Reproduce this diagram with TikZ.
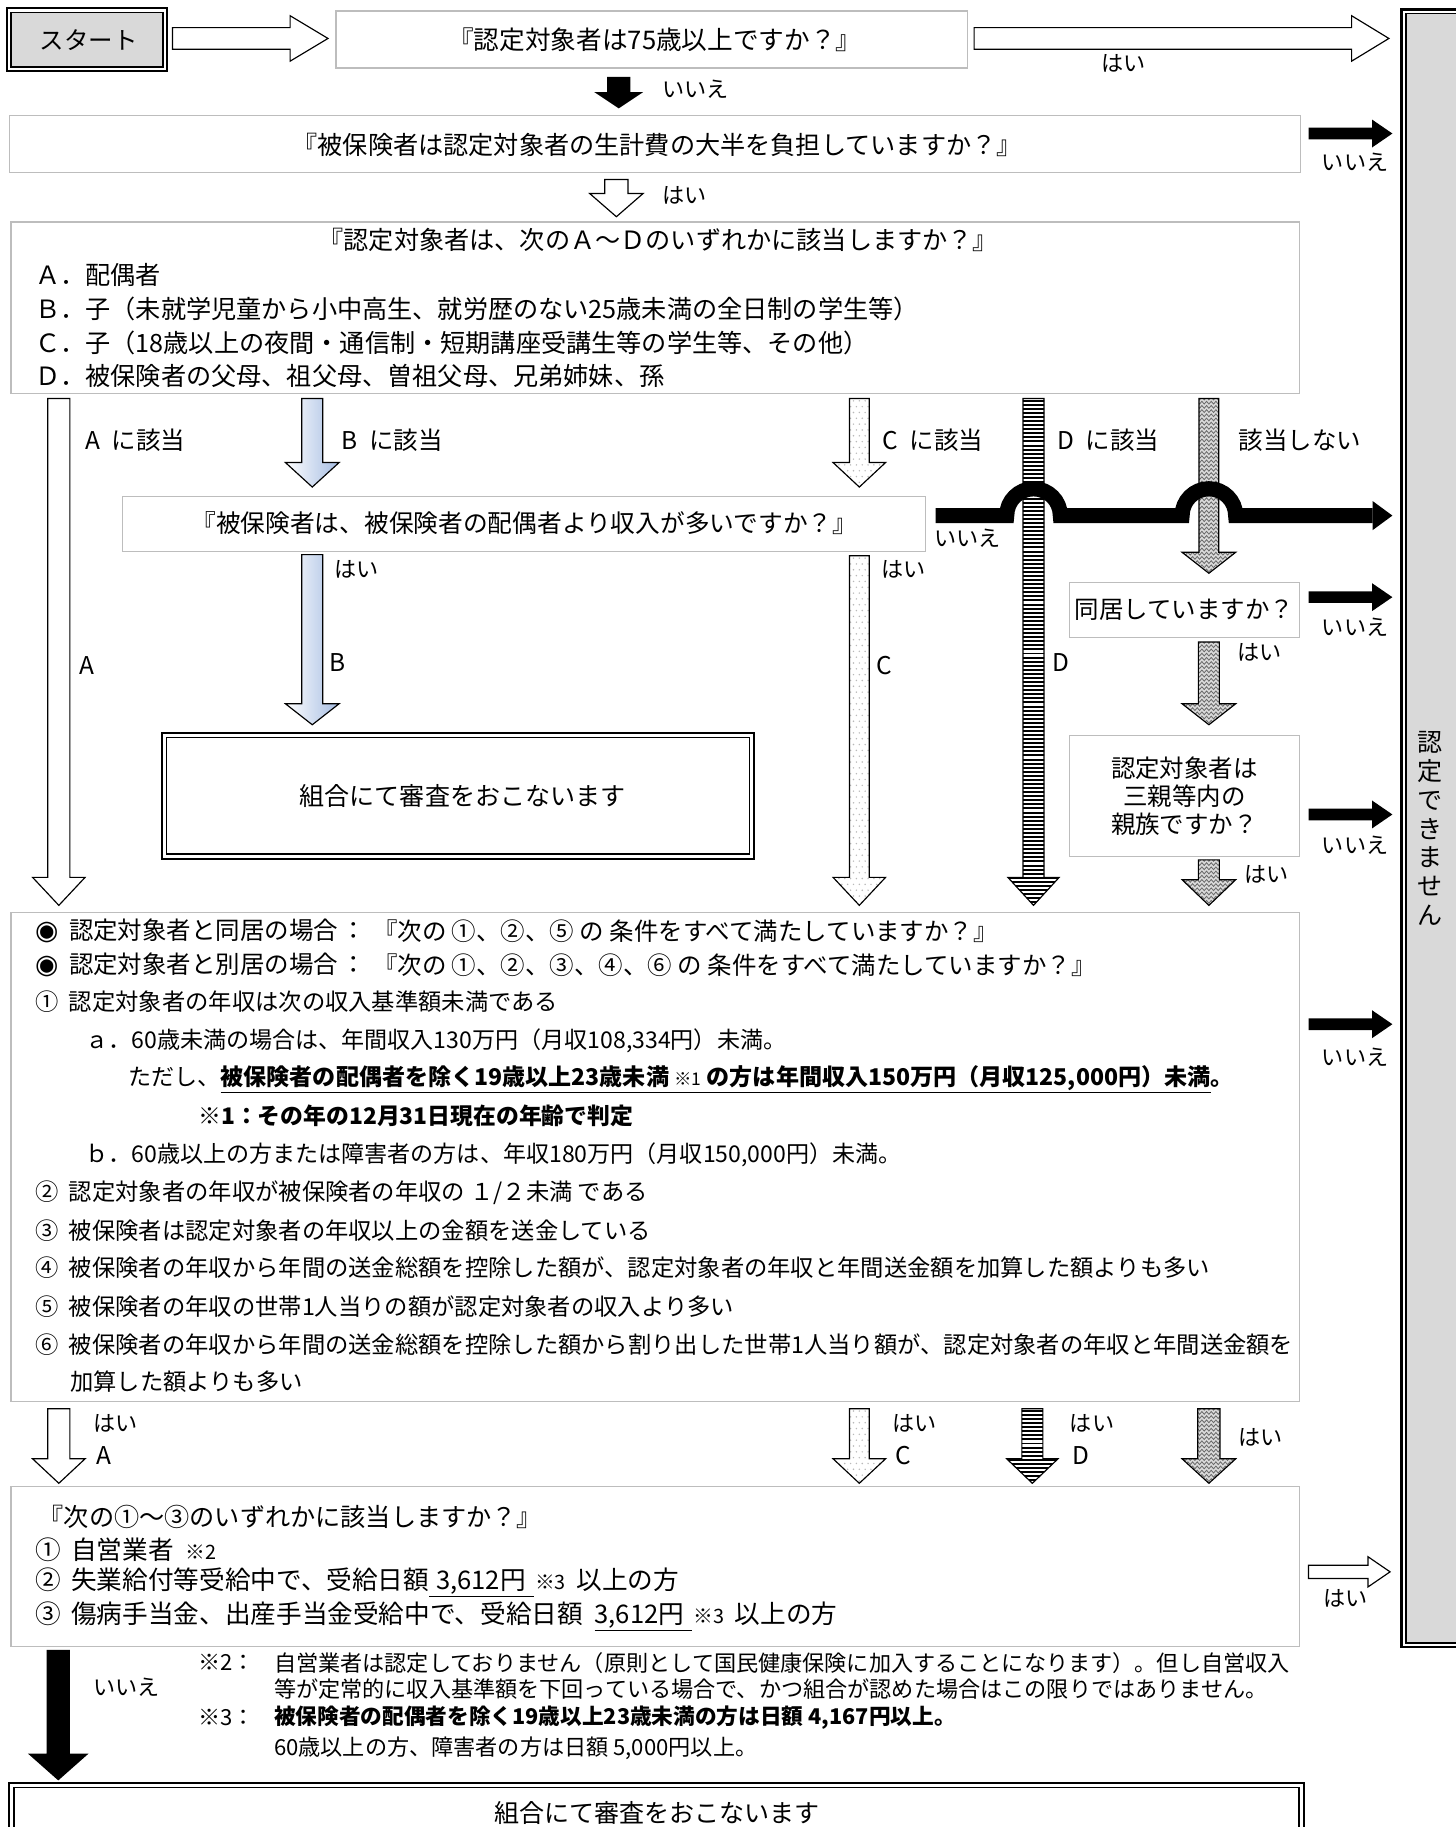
\documentclass[tikz,border=0pt]{standalone}
\usepackage{fontspec}
\setmainfont{Noto Sans CJK JP}
\newfontfamily\dejavu{DejaVu Sans}
\usetikzlibrary{decorations.pathmorphing}
\definecolor{boxgray}{HTML}{BDBDBD}
\definecolor{fillgray}{HTML}{D9D9D9}
\definecolor{bblue}{RGB}{165,188,226}
\definecolor{zzbg}{HTML}{DADADA}
\definecolor{zzline}{HTML}{6A6A6A}
\newcommand{\FsA}{\fontsize{21pt}{25pt}\selectfont}
\newcommand{\FsB}{\fontsize{21.6pt}{29pt}\selectfont}
\newcommand{\FsC}{\fontsize{19pt}{23pt}\selectfont}
\newcommand{\FsD}{\fontsize{22pt}{28pt}\selectfont}
\newcommand{\FsS}{\fontsize{15pt}{18pt}\selectfont}
\newcommand{\FsT}{\fontsize{17pt}{18pt}\selectfont}
\newcommand{\Fish}{{\dejavu\fontsize{23pt}{25pt}\selectfont ◉}}
\newcommand{\Gp}{\hspace{9pt}}
% down arrow: cx, ytop, yhead, ytip, shaft half, head half
\newcommand{\DPath}[6]{({#1-#5},#2) -- ({#1+#5},#2) -- ({#1+#5},#3) -- ({#1+#6},#3) -- (#1,#4) -- ({#1-#6},#3) -- ({#1-#5},#3) -- cycle}
% right arrow: x0, xhead, xtip, cy, shaft half, head half
\newcommand{\RPath}[6]{(#1,{#4-#5}) -- (#2,{#4-#5}) -- (#2,{#4-#6}) -- (#3,#4) -- (#2,{#4+#6}) -- (#2,{#4+#5}) -- (#1,{#4+#5}) -- cycle}
\newcommand{\StripeArrow}[6]{%
  \fill[white] \DPath{#1}{#2}{#3}{#4}{#5}{#6};
  \begin{scope}
    \clip \DPath{#1}{#2}{#3}{#4}{#5}{#6};
    \pgfmathsetmacro{\nst}{int((#4-#2)/3.5)}
    \foreach \ka in {0,...,\nst}{\fill[black] ({#1-#6-2},{#2+1+3.5*\ka}) rectangle ({#1+#6+2},{#2+2.7+3.5*\ka});}
  \end{scope}
  \draw[line width=1] \DPath{#1}{#2}{#3}{#4}{#5}{#6};}
\newcommand{\ZigArrow}[6]{%
  \fill[zzbg] \DPath{#1}{#2}{#3}{#4}{#5}{#6};
  \begin{scope}
    \clip \DPath{#1}{#2}{#3}{#4}{#5}{#6};
    \pgfmathsetmacro{\nst}{int((#4-#2)/3.6)+1}
    \foreach \ka in {0,...,\nst}{\draw[zzline, line width=0.7, decorate, decoration={zigzag,segment length=4pt,amplitude=1.2pt}] ({#1-#6-4},{#2+3.6*\ka}) -- ({#1+#6+4},{#2+3.6*\ka});}
  \end{scope}
  \draw[line width=1] \DPath{#1}{#2}{#3}{#4}{#5}{#6};}
\newcommand{\DotArrow}[6]{%
  \fill[white] \DPath{#1}{#2}{#3}{#4}{#5}{#6};
  \begin{scope}
    \clip \DPath{#1}{#2}{#3}{#4}{#5}{#6};
    \pgfmathsetmacro{\nst}{int((#4-#2)/5)}
    \foreach \ka in {0,...,\nst}{\foreach \kb in {-5,...,5}{\fill[gray!55] ({#1+5*\kb+2.5*mod(\ka,2)},{#2+2+5*\ka}) circle[radius=0.7];}}
  \end{scope}
  \draw[line width=1] \DPath{#1}{#2}{#3}{#4}{#5}{#6};}
\newcommand{\BlueArrow}[6]{%
  \shade[left color=white, right color=bblue] \DPath{#1}{#2}{#3}{#4}{#5}{#6};
  \draw[line width=1] \DPath{#1}{#2}{#3}{#4}{#5}{#6};}
\begin{document}
\begin{tikzpicture}[x=1pt,y=-1pt,
  qbox/.style={draw=boxgray, line width=1, fill=white, rectangle, inner sep=0pt},
  lab/.style={inner sep=0pt, anchor=west, font=\FsC},
  txt/.style={inner sep=0pt, anchor=west},
  hollow/.style={draw=black, line width=1, fill=white},
  solidarrow/.style={fill=black}]
\useasboundingbox (0,0) rectangle (1249,1568);
\fill[white] (0,0) rectangle (1249,1568);

% ---------- start box ----------
\draw[line width=2] (6,7) rectangle (143.5,61);
\filldraw[fill=fillgray, line width=1.2] (9.5,10.5) rectangle (140,57.5);
\node[inner sep=0pt, font=\FsA] (start) at (76,34) {スタート};

% ---------- right box ----------
\draw[line width=2.5] (1203,8) rectangle (1270,1413.5);
\filldraw[fill=fillgray, line width=1.2] (1206.5,11.5) rectangle (1270,1410);
\node[inner sep=0pt, align=center, font=\fontsize{21.5pt}{24.7pt}\selectfont] (ng) at (1227,711) {認\\定\\で\\き\\ま\\せ\\ん};

% ---------- question boxes ----------
\node[qbox, minimum width=541.6, minimum height=49] (q1) at (559.2,33.9) {};
\node[font=\fontsize{22pt}{26pt}\selectfont, inner sep=0pt] at (562,34) {『認定対象者は75歳以上ですか？』};
\node[qbox, minimum width=1108, minimum height=49.5] (q2) at (562,123.6) {};
\node[font=\fontsize{21.6pt}{26pt}\selectfont, inner sep=0pt] at (564,124) {『被保険者は認定対象者の生計費の大半を負担していますか？』};
\node[qbox, minimum width=1105.5, minimum height=147] (q3) at (562.25,264) {};
\node[font=\FsB, inner sep=0pt] (q3t) at (565,206) {『認定対象者は、次のＡ～Ｄのいずれかに該当しますか？』};
\node[txt, font=\FsB] (q3a) at (30,236) {Ａ．配偶者};
\node[txt, font=\FsB] (q3b) at (30,265) {Ｂ．子（未就学児童から小中高生、就労歴のない25歳未満の全日制の学生等）};
\node[txt, font=\FsB] (q3c) at (30,294) {Ｃ．子（18歳以上の夜間・通信制・短期講座受講生等の学生等、その他）};
\node[txt, font=\FsB] (q3d) at (30,323) {Ｄ．被保険者の父母、祖父母、曽祖父母、兄弟姉妹、孫};
\node[qbox, minimum width=689, minimum height=47] (q4) at (449.5,449.5) {};
\node[font=\fontsize{21.2pt}{26pt}\selectfont, inner sep=0pt] at (450,449) {『被保険者は、被保険者の配偶者より収入が多いですか？』};
\node[qbox, minimum width=197, minimum height=47, font=\FsA] (q5) at (1016.5,523.5) {同居していますか？};
\node[qbox, minimum width=197, minimum height=104, align=center, font=\fontsize{21pt}{24pt}\selectfont] (q6) at (1016.5,683) {認定対象者は\\三親等内の\\親族ですか？};

% review box 1
\draw[line width=2] (139,629) rectangle (647,737);
\draw[line width=1.2] (143,633) rectangle (643,733);
\node[font=\fontsize{21.5pt}{26pt}\selectfont, inner sep=0pt] (rev1) at (397,683) {組合にて審査をおこないます};

% ---------- condition box ----------
\node[qbox, minimum width=1105.5, minimum height=420] (cond) at (562.25,993) {};
\begin{scope}[every node/.style={txt, font=\fontsize{20pt}{24pt}\selectfont}]
\node[font=\FsA] (c1) at (30,799) {\Fish\Gp 認定対象者と同居の場合};
\node[font=\FsA] (c1b) at (293,799) {：};
\node[font=\FsA] (c1c) at (320,799) {『次の ①、②、⑤ の 条件をすべて満たしていますか？』};
\node[font=\FsA] (c2) at (30,828) {\Fish\Gp 認定対象者と別居の場合};
\node[font=\FsA] (c2b) at (293,828) {：};
\node[font=\FsA] (c2c) at (320,828) {『次の ①、②、③、④、⑥ の 条件をすべて満たしていますか？』};
\node (c3) at (30,860) {①\Gp 認定対象者の年収は次の収入基準額未満である};
\node[font=\fontsize{19.8pt}{24pt}\selectfont] (c4) at (73,893) {ａ．60歳未満の場合は、年間収入130万円（月収108,334円）未満。};
\node[font=\fontsize{19.8pt}{24pt}\selectfont] (c5) at (110,926) {ただし、\underline{\bfseries 被保険者の配偶者を除く19歳以上23歳未満 {\mdseries\FsS ※1} の方は年間収入150万円（月収125,000円）未満}{\bfseries 。}};
\node[font=\fontsize{19.6pt}{24pt}\selectfont] (c6) at (170,958) {\bfseries ※1：その年の12月31日現在の年齢で判定};
\node[font=\fontsize{19.8pt}{24pt}\selectfont] (c7) at (73,991) {ｂ．60歳以上の方または障害者の方は、年収180万円（月収150,000円）未満。};
\node (c8) at (30,1024) {②\Gp 認定対象者の年収が被保険者の年収の １/２未満 である};
\node (c9) at (30,1056) {③\Gp 被保険者は認定対象者の年収以上の金額を送金している};
\node (c10) at (30,1088) {④\Gp 被保険者の年収から年間の送金総額を控除した額が、認定対象者の年収と年間送金額を加算した額よりも多い};
\node (c11) at (30,1121) {⑤\Gp 被保険者の年収の世帯1人当りの額が認定対象者の収入より多い};
\node (c12) at (30,1154) {⑥\Gp 被保険者の年収から年間の送金総額を控除した額から割り出した世帯1人当り額が、認定対象者の年収と年間送金額を};
\node (c13) at (60,1186) {加算した額よりも多い};
\end{scope}

% ---------- final question box ----------
\node[qbox, minimum width=1105.5, minimum height=137] (q7) at (562.25,1344.5) {};
\begin{scope}[every node/.style={txt, font=\FsD}]
\node[font=\fontsize{21.6pt}{26pt}\selectfont] (f0) at (33,1302) {『次の①～③のいずれかに該当しますか？』};
\node (f1) at (30,1330) {①\Gp 自営業者\hspace{10pt}{\FsT ※2}};
\node (f2) at (30,1358) {②\Gp 失業給付等受給中で、受給日額\underline{\hspace{6pt}3,612円\hspace{7pt}}\hspace{1pt}{\FsT ※3}\hspace{9pt}以上の方};
\node (f3) at (30,1387) {③\Gp 傷病手当金、出産手当金受給中で、受給日額\hspace{10pt}\underline{3,612円\hspace{7pt}}\hspace{1pt}{\FsT ※3}\hspace{9pt}以上の方};
\end{scope}

% notes
\begin{scope}[every node/.style={txt, font=\FsC}]
\node (n1) at (170,1427) {※2：};
\node (n1t) at (235,1427) {自営業者は認定しておりません（原則として国民健康保険に加入することになります）。但し自営収入};
\node (n2t) at (235,1450) {等が定常的に収入基準額を下回っている場合で、かつ組合が認めた場合はこの限りではありません。};
\node (n3) at (170,1474) {※3：};
\node[font=\fontsize{18.6pt}{23pt}\selectfont] (n3t) at (235,1474) {\bfseries 被保険者の配偶者を除く19歳以上23歳未満の方は日額 4,167円以上。};
\node (n4t) at (235,1500) {60歳以上の方、障害者の方は日額 5,000円以上。};
\end{scope}

% final review box
\draw[line width=2] (8,1530) rectangle (1119,1600);
\draw[line width=1.2] (12,1534) rectangle (1115,1600);
\node[font=\fontsize{21.5pt}{26pt}\selectfont, inner sep=0pt] (rev2) at (564,1556) {組合にて審査をおこないます};

% ---------- arrows ----------
\draw[hollow] \RPath{148}{249}{281.5}{33}{9.3}{19.5};
\draw[hollow] \RPath{836}{1160}{1192}{33}{9.3}{19.5};
\node[lab] at (945,54) {はい};
\fill[solidarrow] \DPath{531}{66}{79}{93}{10}{21};
\node[lab] at (568,77) {いいえ};
\fill[solidarrow] \RPath{1123}{1177.5}{1195}{114.6}{5}{12};
\node[lab, anchor=center] at (1163,139) {いいえ};
\draw[hollow] \DPath{529}{154}{166}{186}{10}{23};
\node[lab] at (568,168) {はい};

% from Q3
\draw[hollow] \DPath{50.5}{342}{753}{777}{9.5}{22.5};
\BlueArrow{268}{342}{397}{418}{9}{23}
\DotArrow{737.5}{342}{397}{418}{8.5}{22.5}
\StripeArrow{887}{342}{753}{777}{9}{22}
\ZigArrow{1037.5}{342}{474}{492}{8.5}{23}
\begin{scope}[every node/.style={txt, font=\FsA}]
\node at (73,378) {A\hspace{10pt}に該当};
\node at (293,378) {B\hspace{10pt}に該当};
\node at (757,378) {C\hspace{10pt}に該当};
\node at (907,378) {D\hspace{10pt}に該当};
\node at (1063,378) {該当しない};
\node at (68,571) {A};
\node at (283,569) {B};
\node at (752,571) {C};
\node at (903,569) {D};
\end{scope}

% Q4 no-path with bridges
\draw[line width=13] (803,442.5) -- (864,442.5) arc[start angle=180, end angle=360, radius=23] -- (1014.5,442.5) arc[start angle=180, end angle=360, radius=23] -- (1178,442.5);
\fill (1178,430) -- (1195,442.5) -- (1178,455) -- cycle;
\node[lab] at (802,462) {いいえ};

\BlueArrow{268}{476}{604}{622}{9}{23}
\node[lab] at (287,489) {はい};
\DotArrow{737.5}{477}{753}{777}{8.5}{22.5}
\node[lab] at (756,489) {はい};

\fill[solidarrow] \RPath{1123}{1177.5}{1195}{512.5}{5}{12};
\node[lab, anchor=center] at (1163,538) {いいえ};
\ZigArrow{1037.5}{551}{604}{622}{9}{23}
\node[lab] at (1062,560) {はい};
\fill[solidarrow] \RPath{1123}{1177.5}{1195}{699}{5}{12};
\node[lab, anchor=center] at (1163,725) {いいえ};
\ZigArrow{1037.5}{738}{755}{777}{9}{23}
\node[lab] at (1068,750) {はい};

\fill[solidarrow] \RPath{1123}{1177.5}{1195}{879}{5}{12};
\node[lab, anchor=center] at (1163,907) {いいえ};

% from condition box
\draw[hollow] \DPath{50.5}{1209}{1252}{1273}{9.5}{22.5};
\DotArrow{737.5}{1209}{1252}{1273}{8.5}{22.5}
\StripeArrow{886}{1209}{1252}{1273}{9}{22}
\ZigArrow{1037.5}{1209}{1252}{1273}{9.5}{23}
\node[lab] at (80,1222) {はい};
\node[txt, font=\FsA] at (83,1249) {A};
\node[lab] at (766,1222) {はい};
\node[txt, font=\FsA] at (768,1249) {C};
\node[lab] at (918,1222) {はい};
\node[txt, font=\FsA] at (920,1249) {D};
\node[lab] at (1063,1234) {はい};

\draw[hollow] \RPath{1123}{1174}{1193}{1349}{5.7}{13};
\node[lab, anchor=center] at (1155,1372) {はい};

\fill[solidarrow] \DPath{50}{1416}{1505}{1528}{10}{26};
\node[lab] at (80,1448) {いいえ};
\end{tikzpicture}
\end{document}
